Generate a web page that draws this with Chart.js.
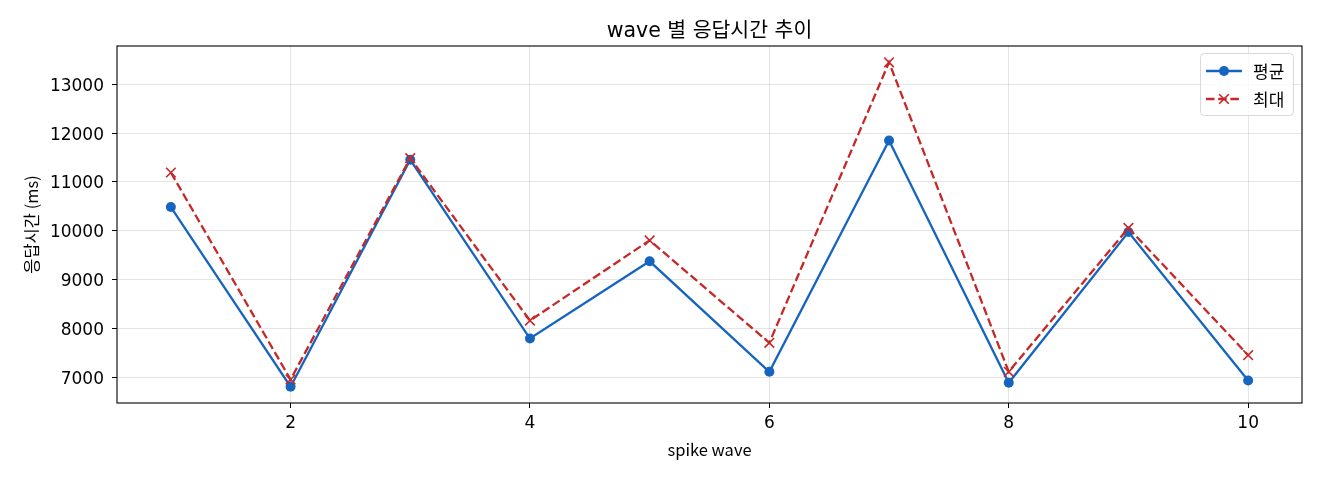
<!DOCTYPE html>
<html>
<head>
<meta charset="utf-8">
<script src="https://cdn.jsdelivr.net/npm/chart.js@4.4.1/dist/chart.umd.min.js"></script>
<style>
html,body{margin:0;padding:0;background:#fff;}
#wrap{width:1320px;height:480px;}
</style>
</head>
<body>
<div id="wrap"><canvas id="c" width="1320" height="480"></canvas></div>
<script>
const waves = [1, 2, 3, 4, 5, 6, 7, 8, 9, 10];
const avgMs = [10485, 6803, 11453, 7791, 9373, 7110, 11848, 6885, 9974, 6932];
const maxMs = [11193, 6950, 11487, 8160, 9802, 7703, 13451, 7110, 10056, 7450];
const xTicks = [2, 4, 6, 8, 10];
const yTicks = [7000, 8000, 9000, 10000, 11000, 12000, 13000];
const seriesNames = ['평균', '최대'];
const titleText = 'wave 별 응답시간 추이';
const xLabel = 'spike wave';
const yLabel = '응답시간 (ms)';

const FONT = "'Noto Sans CJK KR', 'Noto Sans', sans-serif";
const WIDEFONT = "'DejaVu Sans', 'Noto Sans CJK KR', sans-serif";
Chart.defaults.font.family = FONT;
Chart.defaults.color = '#000';

const BLUE = '#1565c0';
const RED = '#c62828';

const frame = {
  id: 'frame',
  afterDatasetsDraw(chart) {
    const {ctx, chartArea: a} = chart;
    ctx.save();
    ctx.strokeStyle = '#000';
    ctx.lineWidth = 1.1;
    ctx.strokeRect(a.left, a.top, a.right - a.left, a.bottom - a.top);
    ctx.restore();
  }
};

const legendBox = {
  id: 'legendBox',
  afterDraw(chart) {
    const {ctx, chartArea: a} = chart;
    const w = 93, h = 62;
    const x0 = a.right - 9 - w, y0 = a.top + 7;
    ctx.save();
    ctx.fillStyle = 'rgba(255,255,255,0.8)';
    ctx.strokeStyle = '#d9d9d9';
    ctx.lineWidth = 1;
    ctx.beginPath();
    ctx.roundRect(x0 + 0.5, y0 + 0.5, w, h, 4);
    ctx.fill();
    ctx.stroke();
    chart.data.datasets.forEach((ds, i) => {
      const cy = y0 + 18 + i * 28;
      const lx = x0 + 6, rx = x0 + 42;
      ctx.strokeStyle = ds.borderColor;
      ctx.lineWidth = ds.borderWidth;
      ctx.setLineDash(ds.borderDash || []);
      ctx.beginPath();
      ctx.moveTo(lx, cy);
      ctx.lineTo(rx, cy);
      ctx.stroke();
      ctx.setLineDash([]);
      ctx.fillStyle = ds.pointBackgroundColor;
      ctx.strokeStyle = ds.pointBorderColor;
      ctx.lineWidth = ds.pointBorderWidth;
      Chart.helpers.drawPoint(ctx, {
        pointStyle: ds.pointStyle, radius: ds.pointRadius,
        borderWidth: ds.pointBorderWidth, rotation: 0
      }, (lx + rx) / 2, cy);
      ctx.fillStyle = '#000';
      ctx.font = '17px ' + FONT;
      ctx.textBaseline = 'middle';
      ctx.textAlign = 'left';
      ctx.fillText(ds.label, x0 + 53, cy + 1);
    });
    ctx.restore();
  }
};

new Chart(document.getElementById('c'), {
  type: 'line',
  data: {
    datasets: [
      {
        label: seriesNames[0],
        data: waves.map((w, i) => ({x: w, y: avgMs[i]})),
        borderColor: BLUE, backgroundColor: BLUE,
        borderWidth: 2.3, pointStyle: 'circle', pointRadius: 5,
        pointBackgroundColor: BLUE, pointBorderColor: BLUE, pointBorderWidth: 0,
        tension: 0, order: 2
      },
      {
        label: seriesNames[1],
        data: waves.map((w, i) => ({x: w, y: maxMs[i]})),
        borderColor: RED, backgroundColor: RED,
        borderWidth: 2.3, borderDash: [8.5, 3.7],
        pointStyle: 'crossRot', pointRadius: 6.8,
        pointBackgroundColor: RED, pointBorderColor: RED, pointBorderWidth: 1.6,
        tension: 0, order: 1
      }
    ]
  },
  options: {
    responsive: false,
    animation: false,
    devicePixelRatio: 1,
    layout: {padding: {left: 22, right: 18, top: 0, bottom: 20}},
    plugins: {
      legend: {display: false},
      tooltip: {enabled: false},
      title: {
        display: true, text: titleText, color: '#000', fullSize: false,
        font: {size: 20.5, weight: 'normal', family: WIDEFONT, lineHeight: 1.2},
        padding: {top: 19, bottom: 2.4}
      }
    },
    scales: {
      x: {
        type: 'linear', min: 0.55, max: 10.45,
        afterBuildTicks(s) { s.ticks = xTicks.map(v => ({value: v})); },
        afterFit(s) { s.height = 57; },
        ticks: {font: {size: 17, family: WIDEFONT}, color: '#000', padding: 5, maxRotation: 0,
                callback: v => String(v)},
        grid: {color: 'rgba(0,0,0,0.1)', lineWidth: 1, tickColor: '#000', tickLength: 5, drawTicks: true},
        border: {display: false},
        title: {display: true, text: xLabel, color: '#000', font: {size: 16.5}, padding: {top: 0, bottom: 0}}
      },
      y: {
        type: 'linear', min: 6470, max: 13785,
        afterBuildTicks(s) { s.ticks = yTicks.map(v => ({value: v})); },
        afterFit(s) { s.width = 95; },
        ticks: {font: {size: 17, family: WIDEFONT}, color: '#000', padding: 8, labelOffset: 2,
                callback: v => String(v)},
        grid: {color: 'rgba(0,0,0,0.1)', lineWidth: 1, tickColor: '#000', tickLength: 5, drawTicks: true},
        border: {display: false},
        title: {display: true, text: yLabel, color: '#000', font: {size: 16.5}, padding: {top: 0, bottom: 0}}
      }
    }
  },
  plugins: [frame, legendBox]
});
</script>
</body>
</html>
